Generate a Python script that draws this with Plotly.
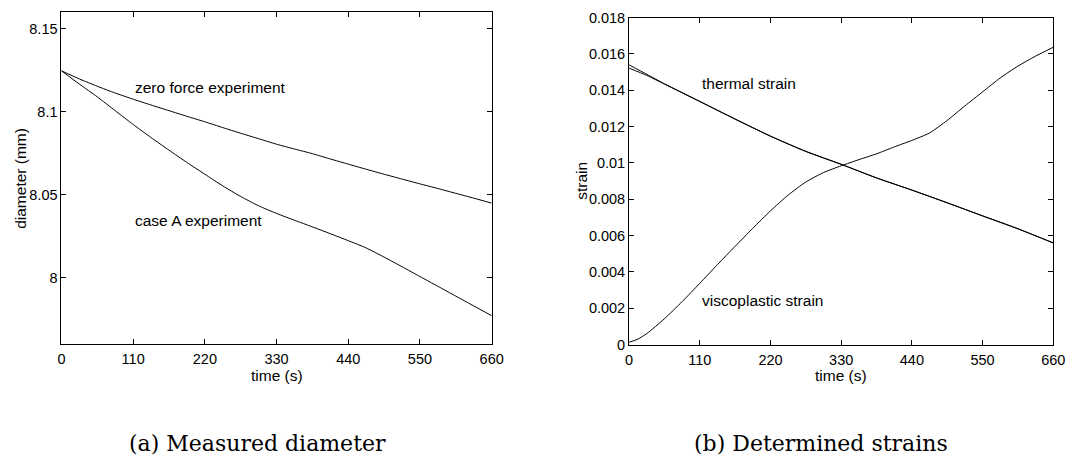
import plotly.graph_objects as go

# ---------------- data ----------------
time_a = [0, 27.5, 55, 82.5, 110, 137.5, 165, 192.5, 220, 247.5, 275, 302.5, 330, 357.5,
          385, 412.5, 440, 467.5, 495, 522.5, 550, 577.5, 605, 632.5, 660]
zero_force = [8.1245, 8.1196, 8.1152, 8.1111, 8.1074, 8.1039, 8.1005, 8.0971, 8.0938,
              8.0903, 8.0869, 8.0836, 8.0803, 8.0774, 8.0746, 8.0714, 8.0683, 8.0652,
              8.0622, 8.0593, 8.0564, 8.0536, 8.0507, 8.0478, 8.0448]
case_a = [8.1245, 8.1165, 8.1088, 8.1005, 8.0922, 8.0843, 8.0767, 8.0693, 8.0622,
          8.0552, 8.0488, 8.0432, 8.0386, 8.0345, 8.0305, 8.0264, 8.0222, 8.0178,
          8.0123, 8.0065, 8.0006, 7.9947, 7.9888, 7.9829, 7.9770]

time_b = [0, 13.75, 27.5, 55, 82.5, 110, 137.5, 165, 192.5, 220, 247.5, 275, 302.5, 330,
          357.5, 385, 412.5, 440, 467.5, 495, 522.5, 550, 577.5, 605, 632.5, 660]
viscoplastic = [0.00012, 0.00030, 0.00060, 0.00142, 0.00236, 0.00337, 0.00440, 0.00541,
                0.00640, 0.00736, 0.00823, 0.00895, 0.00947, 0.00984, 0.01018, 0.01050,
                0.01088, 0.01124, 0.01165, 0.01234, 0.01314, 0.01391, 0.01468, 0.01533,
                0.01588, 0.01637]

time_t = [0, 27.5, 55, 110, 165, 220, 275, 330, 385, 440, 495, 550, 605, 660]
thermal_meas = [0.01540, 0.01488, 0.01436, 0.01339, 0.01241, 0.01147, 0.01064, 0.00993,
                0.00917, 0.00851, 0.00780, 0.00709, 0.00638, 0.00559]
thermal_calc = [0.01522, 0.01482, 0.01434, 0.01338, 0.01242, 0.01148, 0.01063, 0.00992,
                0.00918, 0.00850, 0.00781, 0.00708, 0.00637, 0.00560]

x_ticks = [0, 110, 220, 330, 440, 550, 660]
ya_ticks = [8.0, 8.05, 8.1, 8.15]
ya_text = ["8", "8.05", "8.1", "8.15"]
yb_ticks = [0, 0.002, 0.004, 0.006, 0.008, 0.01, 0.012, 0.014, 0.016, 0.018]
yb_text = ["0", "0.002", "0.004", "0.006", "0.008", "0.01", "0.012", "0.014", "0.016", "0.018"]

W, H = 1080, 473
SANS = "Liberation Sans, Arial, Helvetica, sans-serif"
SERIF = "DejaVu Serif, serif"
TICK_FS = 14.5
LAB_FS = 15.5

fig = go.Figure()
line = dict(color="black", width=1.0, shape="spline", smoothing=0.6)
fig.add_trace(go.Scatter(x=time_a, y=zero_force, mode="lines", line=line,
                         xaxis="x", yaxis="y", showlegend=False))
fig.add_trace(go.Scatter(x=time_a, y=case_a, mode="lines", line=line,
                         xaxis="x", yaxis="y", showlegend=False))
fig.add_trace(go.Scatter(x=time_t, y=thermal_meas, mode="lines", line=line,
                         xaxis="x2", yaxis="y2", showlegend=False))
fig.add_trace(go.Scatter(x=time_t, y=thermal_calc, mode="lines", line=line,
                         xaxis="x2", yaxis="y2", showlegend=False))
fig.add_trace(go.Scatter(x=time_b, y=viscoplastic, mode="lines", line=line,
                         xaxis="x2", yaxis="y2", showlegend=False))

def px_x(p):
    return p / W

def px_y(p):
    return 1 - p / H

axis_common = dict(showgrid=False, zeroline=False, showline=True, linecolor="black", linewidth=1,
                   mirror="allticks", ticks="inside", ticklen=5, tickcolor="black", tickwidth=1,
                   tickfont=dict(family=SANS, size=TICK_FS, color="black"))

fig.update_layout(
    width=W, height=H, margin=dict(l=0, r=0, t=0, b=0),
    paper_bgcolor="white", plot_bgcolor="white",
    xaxis=dict(domain=[px_x(58.3), px_x(495)], range=[0, 660], tickvals=x_ticks,
               anchor="y", ticklabelstandoff=2, **axis_common),
    yaxis=dict(domain=[px_y(347.7), px_y(4)], range=[7.96, 8.16], tickvals=ya_ticks,
               ticktext=ya_text, anchor="x", **axis_common),
    xaxis2=dict(domain=[px_x(634.5), px_x(1065)], range=[0, 660], tickvals=x_ticks,
                anchor="y2", ticklabelstandoff=2, **axis_common),
    yaxis2=dict(domain=[px_y(348.3), px_y(10)], range=[0, 0.018], tickvals=yb_ticks,
                ticktext=yb_text, anchor="x2", **axis_common),
)

ann = []
# in-plot labels
ann.append(dict(x=110, y=8.1146, xref="x", yref="y", text="zero force experiment",
                xanchor="left", yanchor="middle", showarrow=False,
                font=dict(family=SANS, size=LAB_FS, color="black")))
ann.append(dict(x=110, y=8.0344, xref="x", yref="y", text="case A experiment",
                xanchor="left", yanchor="middle", showarrow=False,
                font=dict(family=SANS, size=LAB_FS, color="black")))
ann.append(dict(x=110, y=0.0144, xref="x2", yref="y2", text="thermal strain",
                xanchor="left", yanchor="middle", showarrow=False,
                font=dict(family=SANS, size=LAB_FS, color="black")))
ann.append(dict(x=110, y=0.0024, xref="x2", yref="y2", text="viscoplastic strain",
                xanchor="left", yanchor="middle", showarrow=False,
                font=dict(family=SANS, size=LAB_FS, color="black")))
# axis titles
ann.append(dict(x=px_x(276.7), y=px_y(380), xref="paper", yref="paper", text="time (s)",
                xanchor="center", yanchor="middle", showarrow=False,
                font=dict(family=SANS, size=LAB_FS, color="black")))
ann.append(dict(x=px_x(850), y=px_y(380), xref="paper", yref="paper", text="time (s)",
                xanchor="center", yanchor="middle", showarrow=False,
                font=dict(family=SANS, size=LAB_FS, color="black")))
ann.append(dict(x=px_x(16), y=px_y(176), xref="paper", yref="paper", text="diameter (mm)",
                xanchor="center", yanchor="middle", showarrow=False, textangle=-90,
                font=dict(family=SANS, size=LAB_FS, color="black")))
ann.append(dict(x=px_x(586.5), y=px_y(179), xref="paper", yref="paper", text="strain",
                xanchor="center", yanchor="middle", showarrow=False, textangle=-90,
                font=dict(family=SANS, size=LAB_FS, color="black")))
# captions
ann.append(dict(x=px_x(257.5), y=px_y(451), xref="paper", yref="paper",
                text="(a) Measured diameter", xanchor="center", yanchor="middle",
                showarrow=False, font=dict(family=SERIF, size=22, color="black")))
ann.append(dict(x=px_x(829), y=px_y(451), xref="paper", yref="paper",
                text="(b) Determined strains", xanchor="center", yanchor="middle",
                showarrow=False, font=dict(family=SERIF, size=22, color="black")))
fig.update_layout(annotations=ann)

fig.write_html("out.html")
